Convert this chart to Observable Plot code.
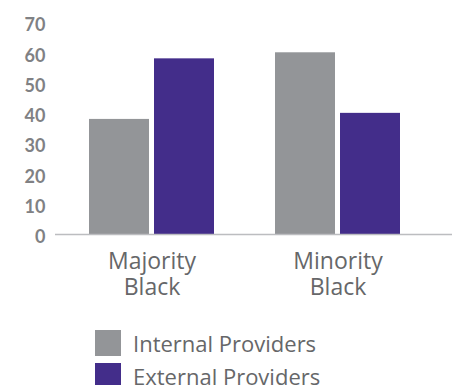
<!DOCTYPE html>
<html>
<head>
<meta charset="utf-8">
<script src="https://cdn.jsdelivr.net/npm/d3@7"></script>
<script src="https://cdn.jsdelivr.net/npm/@observablehq/plot@0.6"></script>
<style>
  html, body { margin: 0; padding: 0; background: #fff; }
  body { width: 452px; height: 385px; overflow: hidden; font-family: "Open Sans", Lato, sans-serif; }
  #legend { margin-top: 25px; padding-left: 95px; }
  .lg-row { display: flex; align-items: center; height: 26px; margin-bottom: 7px; }
  .lg-sw { width: 26px; height: 26px; margin-right: 12px; flex: none; }
  .lg-tx { font-size: 22px; line-height: 24px; color: #666769; font-family: "Open Sans", sans-serif; }
</style>
</head>
<body>
<div id="chart"></div>
<div id="legend"></div>
<script>
const groups = ["Majority Black", "Minority Black"];
const series = ["Internal Providers", "External Providers"];
const internalValues = [38, 60];
const externalValues = [58, 40];
const yTicks = [0, 10, 20, 30, 40, 50, 60, 70];
const colors = ["#939598", "#432d8a"];

const rows = groups.flatMap((g, i) => [
  {group: g, series: series[0], value: internalValues[i]},
  {group: g, series: series[1], value: externalValues[i]}
]);

const plot = Plot.plot({
  width: 452,
  height: 305,
  marginLeft: 55,
  marginRight: 0,
  marginTop: 22,
  marginBottom: 71,
  style: {fontFamily: "Lato, sans-serif", background: "#fff"},
  x: {domain: groups, paddingInner: 0.328, paddingOuter: 0.231, align: 0.395},
  y: {domain: [0, 70]},
  color: {domain: series, range: colors},
  marks: [
    Plot.barY(rows.filter(d => d.series === series[0]), {x: "group", y: "value", fill: "series", insetRight: 65, insetLeft: 0}),
    Plot.barY(rows.filter(d => d.series === series[1]), {x: "group", y: "value", fill: "series", insetLeft: 65, insetRight: 0}),
    Plot.ruleY([0], {stroke: "#bcbdc0", strokeWidth: 1.5}),
    Plot.axisY({ticks: yTicks, tickSize: 0, tickPadding: 10, fontSize: 18, fontWeight: "bold", fontFamily: "Lato, sans-serif", fill: "#808184", dy: 3, label: null}),
    Plot.axisX({tickSize: 0, tickPadding: 17, fontSize: 23, lineHeight: 1.1, fontFamily: "Open Sans, sans-serif", fill: "#666769", tickFormat: d => d.replace(" ", "\n"), label: null})
  ]
});
document.getElementById("chart").appendChild(plot);

const legend = document.getElementById("legend");
series.forEach((s, i) => {
  const row = document.createElement("div");
  row.className = "lg-row";
  const sw = document.createElement("span");
  sw.className = "lg-sw";
  sw.style.background = colors[i];
  const tx = document.createElement("span");
  tx.className = "lg-tx";
  tx.textContent = s;
  row.appendChild(sw);
  row.appendChild(tx);
  legend.appendChild(row);
});
</script>
</body>
</html>
